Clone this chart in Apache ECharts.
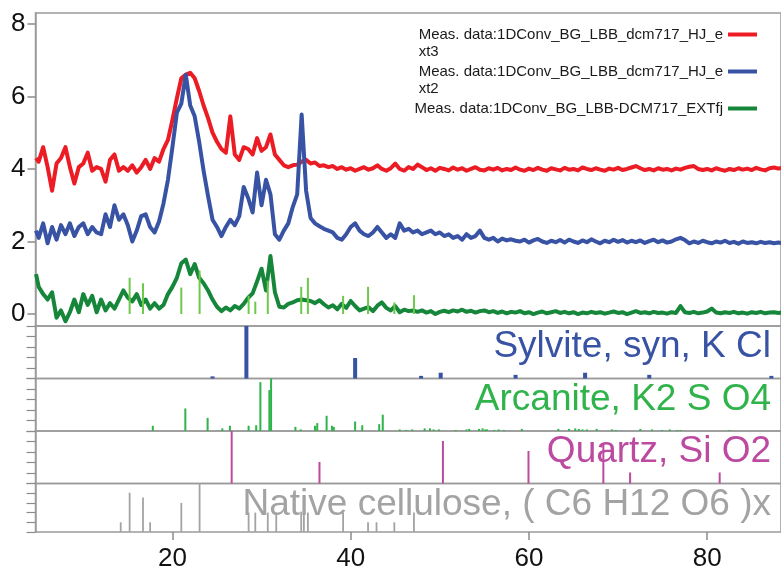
<!DOCTYPE html>
<html>
<head>
<meta charset="utf-8">
<script src="https://cdn.jsdelivr.net/npm/echarts@6/dist/echarts.min.js"></script>
<style>
  html, body { margin: 0; padding: 0; background: #fff; }
  #chart { width: 781px; height: 572px; }
</style>
</head>
<body>
<div id="chart"></div>
<script>
  // 2-theta sampling of the measured patterns
  var angles = [4.7,
    5, 5.5, 6, 6.5, 7, 7.5, 8, 8.5, 9, 9.5,
    10, 10.5, 11, 11.5, 12, 12.5, 13, 13.5, 14, 14.5,
    15, 15.5, 16, 16.5, 17, 17.5, 18, 18.5, 19, 19.5,
    20, 20.5, 21, 21.5, 22, 22.5, 23, 23.5, 24, 24.5,
    25, 25.5, 26, 26.5, 27, 27.5, 28, 28.5, 29, 29.5,
    30, 30.5, 31, 31.5, 32, 32.5, 33, 33.5, 34, 34.5,
    35, 35.5, 36, 36.5, 37, 37.5, 38, 38.5, 39, 39.5,
    40, 40.5, 41, 41.5, 42, 42.5, 43, 43.5, 44, 44.5,
    45, 45.5, 46, 46.5, 47, 47.5, 48, 48.5, 49, 49.5,
    50, 50.5, 51, 51.5, 52, 52.5, 53, 53.5, 54, 54.5,
    55, 55.5, 56, 56.5, 57, 57.5, 58, 58.5, 59, 59.5,
    60, 60.5, 61, 61.5, 62, 62.5, 63, 63.5, 64, 64.5,
    65, 65.5, 66, 66.5, 67, 67.5, 68, 68.5, 69, 69.5,
    70, 70.5, 71, 71.5, 72, 72.5, 73, 73.5, 74, 74.5,
    75, 75.5, 76, 76.5, 77, 77.5, 78, 78.5, 79, 79.5,
    80, 80.5, 81, 81.5, 82, 82.5, 83, 83.5, 84, 84.5,
    85, 85.5, 86, 86.5, 87, 87.5, 88,
    88.3];

  // ext3 (red, offset +4)
  var ext3 = [4.3,
    4.2, 4.6, 4.05, 3.4, 4.15, 4.3, 4.6, 4.05, 3.6, 4.05,
    4.15, 4.45, 3.95, 4.05, 4.0, 3.65, 4.25, 4.4, 3.95, 4.05,
    3.95, 4.1, 3.9, 4.05, 4.25, 4.0, 4.3, 4.2, 4.55, 4.8,
    5.35, 5.95, 6.5, 6.6, 6.65, 6.5, 6.15, 5.75, 5.4, 5.0,
    4.75, 4.55, 4.45, 5.45, 4.4, 4.25, 4.6, 4.55, 4.4, 4.85,
    4.5, 4.6, 4.95, 4.4, 4.25, 4.1, 4.05, 4.1, 4.12, 4.2,
    4.25, 4.15, 4.18, 4.08, 4.1, 4.05, 4.08, 4.0, 4.05, 3.98,
    4.02, 3.95, 4.0, 4.05, 3.98, 4.02, 4.1, 4.0, 3.95, 4.02,
    4.15, 4.0, 3.95, 4.05, 4.0, 4.12, 4.05, 3.97, 4.02, 3.95,
    4.03, 4.0, 3.96, 4.04, 3.98, 4.02, 3.95, 4.0, 4.05, 3.98,
    3.96, 4.02, 3.98, 4.03, 3.96, 4.0, 3.97, 4.04, 3.98, 3.95,
    4.01, 3.97, 4.03, 3.98, 3.95, 4.02, 3.99, 3.96, 4.03, 3.98,
    4.0, 3.96, 4.04, 4.0, 3.97, 4.02, 3.98, 3.95, 4.01, 3.98,
    4.03, 3.97, 4.0, 4.04, 4.08, 4.02, 3.97, 4.0, 3.96, 4.02,
    3.98, 4.0, 3.96, 4.01, 3.98, 4.03, 4.06, 4.08, 4.0, 3.97,
    4.0, 3.96, 4.02, 3.98, 3.95, 4.0, 3.97, 4.02, 3.98, 4.01,
    3.97, 4.03, 3.99, 3.96, 4.02, 4.04, 4.01,
    4.03];

  // ext2 (blue, offset +2)
  var ext2 = [2.3,
    2.1, 2.5, 1.95, 2.4, 2.05, 2.45, 2.2, 2.5, 2.15, 2.4,
    2.5, 2.2, 2.4, 2.25, 2.2, 2.75, 2.4, 3.0, 2.6, 2.75,
    2.45, 2.0, 2.3, 2.7, 2.75, 2.4, 2.25, 2.55, 3.05, 3.7,
    4.6, 5.55, 5.8, 6.6, 5.75, 5.45, 4.75, 3.95, 3.25, 2.6,
    2.4, 2.15, 2.4, 2.6, 2.45, 2.7, 3.5, 3.2, 2.8, 3.9,
    3.0, 3.7, 3.3, 2.2, 2.05, 2.3, 2.5, 2.95, 3.3, 5.5,
    3.4, 2.65, 2.5, 2.42, 2.35, 2.3, 2.25, 2.1, 2.05, 2.2,
    2.4, 2.5, 2.3, 2.2, 2.15, 2.25, 2.4, 2.25, 2.1, 2.2,
    2.1, 2.5, 2.3, 2.35, 2.25, 2.3, 2.2, 2.25, 2.3, 2.2,
    2.25, 2.15, 2.2, 2.1, 2.15, 2.05, 2.2, 2.1, 2.15, 2.3,
    2.1, 2.05, 2.1, 2.0, 2.08, 2.03, 2.06, 2.02, 2.0, 2.05,
    1.97, 2.03, 2.07, 2.0, 1.96, 2.02, 1.98, 2.04, 1.97, 2.05,
    2.0, 1.96, 2.03, 1.98, 2.06, 2.0, 1.95, 2.02, 1.98, 2.05,
    1.99, 2.04, 1.97, 2.02, 1.98, 2.03, 1.96, 2.01, 2.05, 1.98,
    2.03, 1.97, 2.0, 2.06, 2.1, 2.04, 1.95, 2.0, 1.96, 2.02,
    1.98, 1.95, 2.0, 1.97, 2.02, 1.96, 1.99, 1.94, 2.0, 1.96,
    1.98, 1.95, 1.99, 1.96, 1.98, 1.95, 1.97,
    1.96];

  // EXTfj (green, no offset)
  var extfj = [1.1,
    0.75, 0.55, 0.4, 0.6, -0.1, 0.1, -0.2, 0.05, 0.4, 0.05,
    0.55, 0.25, 0.5, 0.05, 0.4, 0.1, 0.3, 0.15, 0.4, 0.65,
    0.45, 0.35, 0.55, 0.25, 0.4, 0.15, 0.3, 0.15, 0.25, 0.55,
    0.75, 1.0, 1.4, 1.5, 1.1, 1.38, 1.0, 0.85, 0.65, 0.4,
    0.2, 0.08, 0.18, 0.1, 0.22, 0.15, 0.28, 0.45, 0.57, 0.9,
    1.25, 0.65, 1.6, 0.6, 0.2, 0.18, 0.28, 0.32, 0.38, 0.4,
    0.38, 0.36, 0.3, 0.38, 0.27, 0.18, 0.24, 0.13, 0.28, 0.17,
    0.36, 0.22, 0.1, 0.15, 0.19, 0.08, 0.23, 0.32, 0.17, 0.1,
    0.22, 0.05, 0.12, 0.08, 0.1, 0.06, 0.1, 0.04, 0.08, 0.0,
    0.06, 0.09, 0.05, 0.1, 0.07, 0.12, 0.06, 0.09, 0.04, 0.08,
    0.1, 0.05, 0.08, 0.03, 0.07, 0.02, 0.06, 0.04, 0.08, 0.02,
    0.05, 0.0, 0.04, 0.07, 0.02, 0.05, 0.08, 0.03, 0.06, 0.02,
    0.05, 0.0, 0.04, 0.02, 0.06, 0.03, 0.05, 0.01, 0.04, 0.07,
    0.03, 0.05, 0.0, 0.04, 0.08, 0.03, 0.05, 0.02, 0.06, 0.03,
    0.04, 0.01, 0.05, 0.03, 0.22, 0.05, 0.03, 0.06, 0.02, 0.04,
    0.07, 0.15, 0.04, 0.02, 0.05, 0.03, 0.06, 0.02, 0.04, 0.01,
    0.05, 0.03, 0.06, 0.02, 0.04, 0.05, 0.03,
    0.04];

  // light green reference sticks drawn in the top panel
  var overlayPos = [15.2, 16.7, 21.0, 23.05, 28.55, 29.3, 30.7, 34.45, 35.2, 39.15, 41.95, 44.9, 47.1];
  var overlayHeight = [1.0, 0.85, 0.73, 1.2, 0.5, 0.34, 0.92, 0.75, 1.0, 0.5, 0.75, 0.32, 0.52];

  // reference patterns (relative intensity, %)
  var sylvitePos = [24.5, 28.3, 40.5, 47.9, 50.1, 58.5, 66.3, 73.5, 87.2];
  var sylviteInt = [4, 100, 39, 5, 11, 7, 11, 7, 5];

  var arcanitePos = [17.8, 21.45, 23.95, 25.6, 26.45, 28.55, 29.4, 29.87, 30.88, 31.07,
    33.8, 34.4, 36.0, 36.25, 37.3, 37.9, 38.1, 40.5, 41.3, 43.2,
    43.6, 45.5, 46.2, 46.9, 48.3, 48.9, 49.3, 49.9, 51.8, 53.0,
    53.3, 54.4, 54.8, 55.1, 55.3, 56.1, 56.6, 57.2, 59.2, 63.3,
    64.5, 65.2, 65.6, 66.0, 66.5, 67.6, 69.3, 69.75, 72.5, 73.8,
    74.9, 75.8, 76.6, 77.0, 82.5];
  var arcaniteInt = [10, 43, 25, 5, 10, 10, 11, 93, 78, 100,
    8, 3, 10, 15, 29, 10, 8, 18, 11, 13,
    31, 3, 2, 3, 5, 5, 3, 3, 2, 3,
    4, 4, 5, 3, 3, 2, 3, 2, 4, 4,
    4, 5, 4, 3, 3, 4, 3, 2, 4, 3,
    2, 3, 2, 2, 2];

  var quartzPos = [26.65, 36.5, 50.35, 59.95, 68.35, 71.35, 81.4];
  var quartzInt = [100, 41, 81, 62, 76, 21, 21];

  var cellulosePos = [14.2, 15.2, 16.7, 17.5, 21.0, 23.05, 28.55, 29.3, 30.7, 31.65,
    34.45, 34.75, 35.2, 39.15, 41.95, 42.9, 44.9, 47.1];
  var celluloseInt = [20, 81, 71, 20, 60, 100, 40, 40, 40, 40,
    42, 42, 40, 40, 20, 20, 20, 40];

  var yTicks = [0, 2, 4, 6, 8];
  var xTicks = [20, 40, 60, 80];

  var seriesNames = [
    'Meas. data:1DConv_BG_LBB_dcm717_HJ_ext3',
    'Meas. data:1DConv_BG_LBB_dcm717_HJ_ext2',
    'Meas. data:1DConv_BG_LBB-DCM717_EXTfj'
  ];
  // how the legend wraps each name
  var legendLines = [
    ['Meas. data:1DConv_BG_LBB_dcm717_HJ_e', 'xt3'],
    ['Meas. data:1DConv_BG_LBB_dcm717_HJ_e', 'xt2'],
    ['Meas. data:1DConv_BG_LBB-DCM717_EXTfj', '']
  ];
  var phaseNames = ['Sylvite, syn, K Cl', 'Arcanite, K2 S O4', 'Quartz, Si O2', 'Native cellulose, ( C6 H12 O6 )x'];

  var FONT = 'Liberation Sans, Arial, sans-serif';
  var frameColor = '#9b9b9b';
  var traceColors = ['#ec1c24', '#3852a4', '#16863a'];
  var phaseColors = ['#3852a4', '#2fb34a', '#bb4aa0', '#a3a3a3'];
  var phaseWidths = [4, 2, 2, 1.8];

  var xMin = 4.64, xMax = 88.28;
  var panelTops = [326, 378.5, 431, 483.5];
  var panelHeight = 52.5;

  function zip(xs, ys) {
    return xs.map(function (x, i) { return [x, ys[i]]; });
  }

  function stickSeries(name, pos, ints, idx, color, width) {
    return {
      type: 'custom',
      name: name,
      xAxisIndex: idx,
      yAxisIndex: idx,
      data: zip(pos, ints),
      itemStyle: { color: color },
      z: 3,
      renderItem: function (params, api) {
        var p0 = api.coord([api.value(0), 0]);
        var p1 = api.coord([api.value(0), api.value(1)]);
        return {
          type: 'line',
          shape: { x1: p0[0], y1: p0[1], x2: p1[0], y2: p1[1] },
          style: { stroke: color, lineWidth: width }
        };
      }
    };
  }

  var grids = [{
    left: 35.5, right: -2, top: 13, height: 313,
    show: true, borderColor: frameColor, borderWidth: 1.5
  }];
  var xAxes = [];
  var yAxes = [{
    type: 'value', gridIndex: 0, min: -0.33, max: 8.3,
    axisLine: { show: true, lineStyle: { color: frameColor, width: 1.5 } },
    axisTick: { show: true, customValues: yTicks, length: 8, lineStyle: { color: '#8c8c8c', width: 1.5 } },
    axisLabel: { customValues: yTicks, fontSize: 26, fontFamily: FONT, color: '#111', margin: 10 },
    splitLine: { show: false }
  }];

  panelTops.forEach(function (t, i) {
    grids.push({
      left: 35.5, right: -2, top: t, height: panelHeight,
      show: true, borderColor: frameColor, borderWidth: 1.5
    });
    yAxes.push({
      type: 'value', gridIndex: i + 1, min: 0, max: 100, interval: 20,
      axisLine: { show: true, lineStyle: { color: frameColor, width: 1.5 } },
      axisTick: { show: true, length: 9, lineStyle: { color: '#8c8c8c', width: 1.2 } },
      axisLabel: { show: false },
      splitLine: { show: false }
    });
  });

  for (var g = 0; g < 5; g++) {
    var last = g === 4;
    xAxes.push({
      type: 'value', gridIndex: g, min: xMin, max: xMax,
      axisLine: { show: false },
      axisTick: { show: last, customValues: xTicks, length: 8, lineStyle: { color: '#8c8c8c', width: 1.5 } },
      axisLabel: { show: last, customValues: xTicks, fontSize: 26, fontFamily: FONT, color: '#111', margin: 14 },
      splitLine: { show: false }
    });
  }

  var series = [ext3, ext2, extfj].map(function (vals, i) {
    return {
      type: 'line',
      name: seriesNames[i],
      xAxisIndex: 0,
      yAxisIndex: 0,
      data: zip(angles, vals),
      showSymbol: false,
      symbol: 'none',
      lineStyle: { color: traceColors[i], width: 4, join: 'round' },
      itemStyle: { color: traceColors[i] },
      z: 2
    };
  });

  series.push(stickSeries('overlay', overlayPos, overlayHeight, 0, '#6cc94a', 2));
  series.push(stickSeries(phaseNames[0], sylvitePos, sylviteInt, 1, phaseColors[0], phaseWidths[0]));
  series.push(stickSeries(phaseNames[1], arcanitePos, arcaniteInt, 2, phaseColors[1], phaseWidths[1]));
  series.push(stickSeries(phaseNames[2], quartzPos, quartzInt, 3, phaseColors[2], phaseWidths[2]));
  series.push(stickSeries(phaseNames[3], cellulosePos, celluloseInt, 4, phaseColors[3], phaseWidths[3]));

  // phase labels, right aligned in each stick panel
  var graphics = phaseNames.map(function (txt, i) {
    return {
      type: 'text',
      x: 771,
      y: panelTops[i] + 21,
      z: 100,
      style: {
        text: txt,
        fill: phaseColors[i],
        fontSize: 37,
        fontFamily: FONT,
        align: 'right',
        verticalAlign: 'middle'
      }
    };
  });

  var chart = echarts.init(document.getElementById('chart'), null, { renderer: 'canvas' });
  chart.setOption({
    animation: false,
    backgroundColor: '#fff',
    grid: grids,
    xAxis: xAxes,
    yAxis: yAxes,
    legend: {
      orient: 'vertical',
      right: 24,
      top: 9,
      padding: 0,
      align: 'right',
      itemGap: -14,
      itemWidth: 29,
      itemHeight: 4,
      icon: 'rect',
      selectedMode: false,
      data: seriesNames,
      formatter: function (name) {
        var l = legendLines[seriesNames.indexOf(name)];
        return '\n{a|' + l[0] + '}\n' + (l[1] ? '{a|' + l[1] + '}' : '');
      },
      textStyle: {
        fontFamily: FONT,
        fontSize: 15,
        lineHeight: 17,
        color: '#1a1a1a',
        rich: { a: { align: 'left', fontSize: 15, lineHeight: 17, fontFamily: FONT, color: '#1a1a1a' } }
      }
    },
    graphic: graphics,
    series: series
  });
</script>
</body>
</html>
